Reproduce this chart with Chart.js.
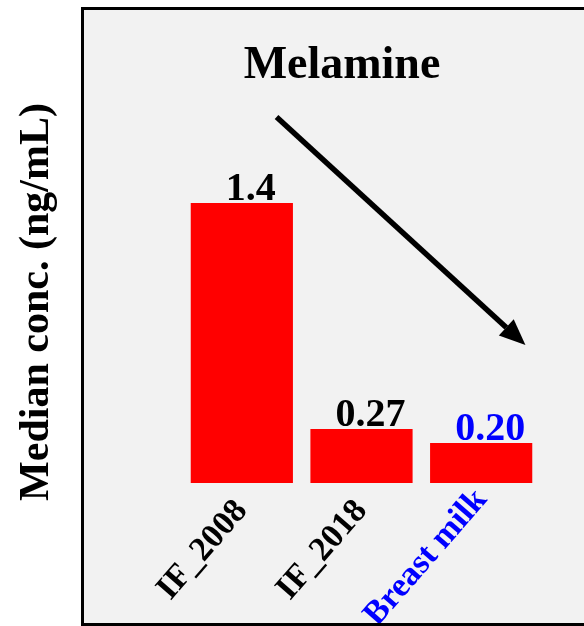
<!DOCTYPE html>
<html>
<head>
<meta charset="utf-8">
<script src="https://cdn.jsdelivr.net/npm/chart.js@4/dist/chart.umd.min.js"></script>
<style>
  html, body { margin: 0; padding: 0; background: #fff; }
  #wrap { width: 584px; height: 626px; position: relative; }
</style>
</head>
<body>
<div id="wrap"><canvas id="chart"></canvas></div>
<script>
// --- Data ---
const categories = ['IF_2008', 'IF_2018', 'Breast milk'];
const medianConc = [1.4, 0.27, 0.20];
const valueLabels = ['1.4', '0.27', '0.20'];
const labelColors = ['#000000', '#000000', '#0000ff'];
const chartTitle = 'Melamine';
const yTitle = 'Median conc. (ng/mL)';

// arrow from / to, in (category index, value) units
const arrowFrom = [0.29, 1.83];
const arrowTo = [2.37, 0.69];

const FONT = '"Liberation Serif", "Times New Roman", serif';

// --- Panel, labels and arrow ---
const decor = {
    id: 'decor',
    beforeDraw(chart) {
        const ctx = chart.ctx;
        ctx.save();
        ctx.fillStyle = '#f2f2f2';
        ctx.fillRect(82, 8, 520, 620);
        ctx.restore();
    },
    afterDraw(chart) {
        const ctx = chart.ctx;
        ctx.save();
        ctx.strokeStyle = '#000';
        ctx.lineWidth = 3;
        ctx.strokeRect(82.5, 8.5, 520, 616);
        ctx.restore();
    },
    afterDatasetsDraw(chart) {
        const ctx = chart.ctx;
        const meta = chart.getDatasetMeta(0);
        const xs = chart.scales.x, ys = chart.scales.y;
        ctx.save();

        // value labels over the bars
        ctx.font = 'bold 40px ' + FONT;
        ctx.textAlign = 'center';
        ctx.textBaseline = 'alphabetic';
        meta.data.forEach((bar, i) => {
            ctx.fillStyle = labelColors[i];
            ctx.fillText(valueLabels[i], bar.x + 9, bar.y - 3);
        });

        // title
        ctx.fillStyle = '#000';
        ctx.font = 'bold 46px ' + FONT;
        ctx.fillText(chartTitle, 342, 78);

        // y axis title
        ctx.save();
        ctx.translate(48, 302);
        ctx.rotate(-Math.PI / 2);
        ctx.font = 'bold 42px ' + FONT;
        ctx.fillText(yTitle, 0, 0);
        ctx.restore();

        // arrow
        const x1 = xs.getPixelForValue(arrowFrom[0]), y1 = ys.getPixelForValue(arrowFrom[1]);
        const x2 = xs.getPixelForValue(arrowTo[0]), y2 = ys.getPixelForValue(arrowTo[1]);
        const ang = Math.atan2(y2 - y1, x2 - x1);
        const headLen = 26, headW = 11;
        const bx = x2 - headLen * Math.cos(ang), by = y2 - headLen * Math.sin(ang);
        ctx.strokeStyle = '#000';
        ctx.lineWidth = 5.5;
        ctx.beginPath();
        ctx.moveTo(x1, y1);
        ctx.lineTo(bx, by);
        ctx.stroke();
        ctx.beginPath();
        ctx.moveTo(x2, y2);
        ctx.lineTo(bx + headW * Math.sin(ang), by - headW * Math.cos(ang));
        ctx.lineTo(bx - headW * Math.sin(ang), by + headW * Math.cos(ang));
        ctx.closePath();
        ctx.fill();
        ctx.restore();
    }
};

new Chart(document.getElementById('chart'), {
    type: 'bar',
    data: {
        labels: categories,
        datasets: [{
            data: medianConc,
            backgroundColor: '#ff0000',
            borderWidth: 0,
            categoryPercentage: 1,
            barPercentage: 0.854
        }]
    },
    options: {
        responsive: true,
        maintainAspectRatio: false,
        animation: false,
        layout: { padding: { left: 182, right: 43, top: 83, bottom: 0 } },
        plugins: {
            legend: { display: false },
            tooltip: { enabled: false }
        },
        scales: {
            x: {
                grid: { display: false, drawTicks: false },
                border: { display: false },
                ticks: {
                    minRotation: 49,
                    maxRotation: 49,
                    padding: 9,
                    autoSkip: false,
                    // last label sits a little higher, as in the original
                    font: (c) => ({ family: FONT, size: 34, weight: 'bold', lineHeight: c.index === 2 ? 0.2 : 1.2 }),
                    color: (c) => labelColors[c.index]
                },
                afterFit: (s) => { s.height = 143; }
            },
            y: {
                display: false,
                min: 0,
                max: 2
            }
        }
    },
    plugins: [decor]
});
</script>
</body>
</html>
